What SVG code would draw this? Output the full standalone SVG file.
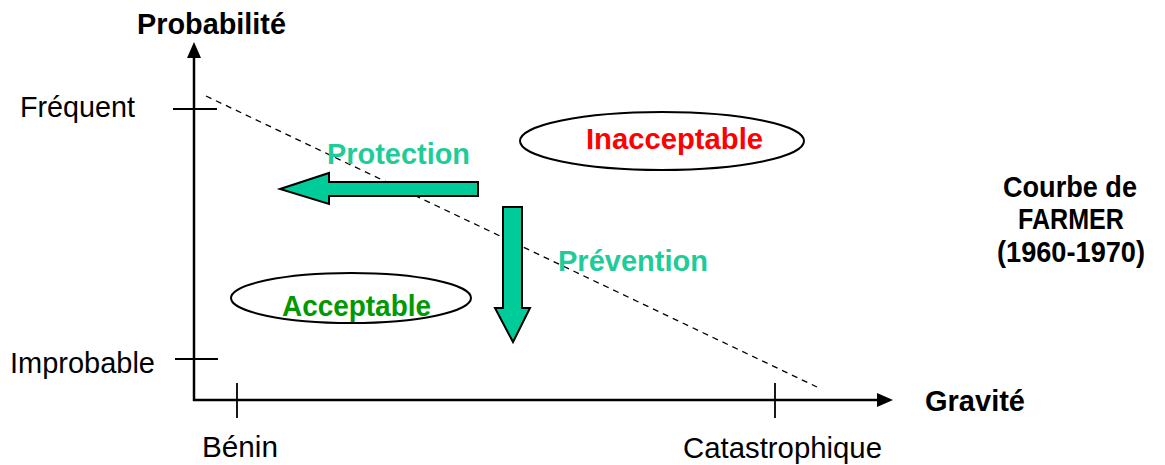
<svg xmlns="http://www.w3.org/2000/svg" width="1165" height="465" viewBox="0 0 1165 465">
<style>
text{font-family:"Liberation Sans",Arial,sans-serif;font-size:29px}
.b{font-weight:bold}
.ax{stroke:#000;stroke-width:2.5;fill:none}
.tk{stroke:#000;stroke-width:1.8;fill:none}
.el{fill:#fff;stroke:#000;stroke-width:2}
.arr{fill:#00CC99;stroke:#000;stroke-width:2;stroke-linejoin:miter}
.teal{fill:#1FCC99}
</style>
<rect width="1165" height="465" fill="#fff"/>
<g id="connectors">
<line class="ax" x1="194" y1="401" x2="194" y2="56"/>
<polygon points="194,42 187,58 201,58" fill="#000"/>
<line class="ax" x1="193" y1="400" x2="879" y2="400"/>
<polygon points="893,400 877,393 877,407" fill="#000"/>
<line class="tk" x1="173" y1="109" x2="217" y2="109"/>
<line class="tk" x1="175" y1="359" x2="218" y2="359"/>
<line class="tk" x1="237" y1="383" x2="237" y2="418"/>
<line class="tk" x1="775" y1="383" x2="775" y2="418"/>
<line x1="206" y1="96" x2="817" y2="387" stroke="#000" stroke-width="1.3" stroke-dasharray="6,5"/>
</g>
<g id="inacceptable">
<ellipse class="el" cx="662" cy="141" rx="142" ry="29"/>
<text class="b" x="586" y="149" fill="#FF0000" textLength="177" lengthAdjust="spacingAndGlyphs">Inacceptable</text>
</g>
<g id="acceptable">
<ellipse class="el" cx="351" cy="298" rx="120" ry="25"/>
<text class="b" x="282" y="316" fill="#009900" textLength="149" lengthAdjust="spacingAndGlyphs">Acceptable</text>
</g>
<g id="protection">
<polygon class="arr" points="478,182 329,182 329,173 280,189 329,204 329,196 478,196"/>
<text class="b teal" x="327" y="164" textLength="143" lengthAdjust="spacingAndGlyphs">Protection</text>
</g>
<g id="prevention">
<polygon class="arr" points="503,207 522,207 522,308 530,308 513,342 495,308 503,308"/>
<text class="b teal" x="558" y="271" textLength="150" lengthAdjust="spacingAndGlyphs">Prévention</text>
</g>
<g id="labels">
<text class="b" x="137" y="34" textLength="149" lengthAdjust="spacingAndGlyphs">Probabilité</text>
<text x="20" y="117" textLength="115" lengthAdjust="spacingAndGlyphs">Fréquent</text>
<text x="10" y="373" textLength="145" lengthAdjust="spacingAndGlyphs">Improbable</text>
<text x="202" y="457" textLength="76" lengthAdjust="spacingAndGlyphs">Bénin</text>
<text x="683" y="458" textLength="199" lengthAdjust="spacingAndGlyphs">Catastrophique</text>
<text class="b" x="925" y="411" textLength="100" lengthAdjust="spacingAndGlyphs">Gravité</text>
</g>
<g id="title">
<text class="b" x="1070" y="197" text-anchor="middle" textLength="134" lengthAdjust="spacingAndGlyphs">Courbe de</text>
<text class="b" x="1071" y="229" text-anchor="middle" textLength="106" lengthAdjust="spacingAndGlyphs">FARMER</text>
<text class="b" x="1071" y="262" text-anchor="middle" textLength="148" lengthAdjust="spacingAndGlyphs">(1960-1970)</text>
</g>
</svg>
